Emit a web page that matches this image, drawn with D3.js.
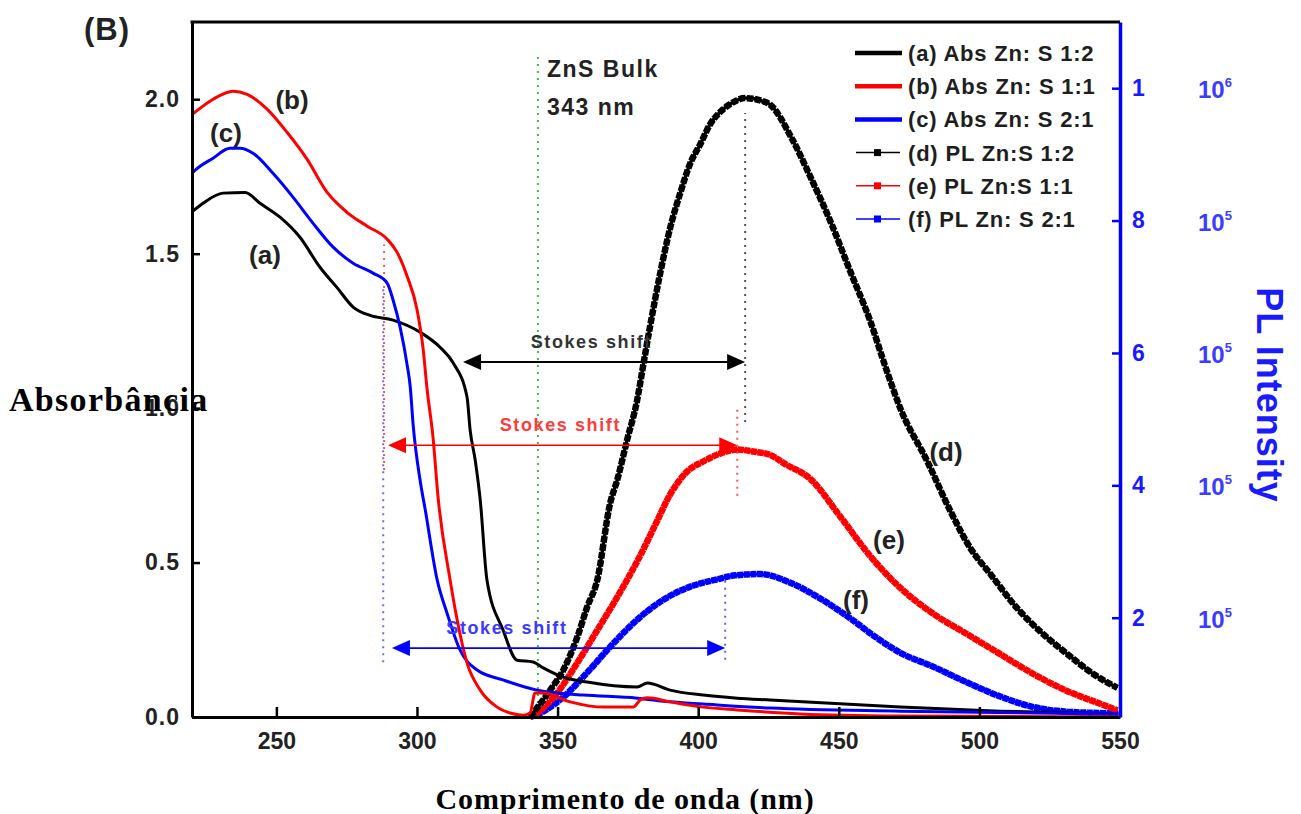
<!DOCTYPE html>
<html>
<head>
<meta charset="utf-8">
<script src="https://cdn.jsdelivr.net/npm/d3@7"></script>
<style>
  body { margin: 0; background: #fff; }
  svg { display: block; }
  text { font-family: Arial, "Liberation Sans", sans-serif; }
</style>
</head>
<body>
<svg id="chart" width="1301" height="814"></svg>
<script>
// ---- Absorbance spectra (wavelength nm, absorbance) ----
const absA = [[220,1.635],[223.9,1.663],[231,1.696],[238.9,1.698],[244.2,1.663],[251.3,1.618],[258.4,1.553],
  [265.5,1.456],[271.6,1.39],[277.3,1.327],[283.3,1.30],[291.5,1.285],[301.1,1.246],[308.2,1.197],[312.9,1.146],
  [317.8,1.036],[318.9,0.929],[320.7,0.832],[322.5,0.702],[324.9,0.443],[330.6,0.282],[335.6,0.184],[341.3,0.178],
  [344.9,0.159],[352,0.129],[360.5,0.113],[378.3,0.097],[381.9,0.110],[390,0.087],[401.8,0.071],[413.9,0.061],
  [425.6,0.055],[471.9,0.032],[507.4,0.019],[549.4,0.010]];
const absB = [[220,1.95],[221.1,1.958],[227.5,2.0],[234.6,2.026],[239.6,2.016],[246.7,1.968],[253.8,1.893],
  [260.9,1.806],[268,1.699],[275.1,1.634],[282.3,1.589],[289.4,1.547],[292.9,1.505],[296.5,1.427],[300,1.32],
  [302.2,1.191],[303.6,1.061],[305.7,0.906],[307.5,0.712],[311.8,0.443],[314.3,0.314],[317.8,0.175],[322.5,0.087],
  [328.5,0.032],[333.1,0.013],[337.8,0.006],[340.2,0.013],[342,0.078],[344.9,0.078],[354.5,0.049],[366.2,0.032],
  [376.9,0.032],[379.4,0.055],[381.9,0.062],[390,0.049],[401.8,0.032],[413.9,0.023],[436.3,0.010],[471.9,0.003],[550,0.0]];
const absC = [[220,1.76],[221.1,1.77],[227.5,1.809],[233.5,1.841],[237.1,1.841],[241.7,1.825],[248.8,1.760],
  [255.9,1.683],[263,1.599],[270.2,1.521],[277.3,1.469],[284.4,1.437],[289.4,1.405],[291.5,1.35],[294,1.262],
  [296.5,1.14],[297.6,1.07],[298.6,0.95],[301.1,0.767],[302.9,0.673],[307.2,0.443],[310.7,0.336],[315.3,0.217],
  [321.4,0.152],[330.6,0.12],[342.7,0.087],[349.8,0.078],[359.1,0.071],[378.3,0.061],[390,0.049],[401.8,0.042],
  [425.6,0.029],[471.9,0.019],[549.4,0.010]];

// ---- Photoluminescence spectra (wavelength nm, intensity) ----
const plD = [[340.2,50000],[347.4,90800],[352,120700],[357,170600],[360.5,215900],[364.1,256700],[368.7,373000],
  [371.2,407800],[374.7,468200],[378.3,528700],[380.4,580000],[382.9,640400],[386.5,720500],[390,788500],
  [393.6,841300],[397.2,886700],[400.7,915000],[404.3,946000],[407.8,964000],[411.4,976000],[416.7,985000],
  [424.5,978000],[433.8,920000],[439.8,867000],[447,799000],[454.1,723000],[461.2,648000],[466.5,580000],
  [471.9,516000],[481.5,436000],[489.7,361000],[496.8,305000],[503.9,266000],[513.5,214000],[521.7,179000],
  [531.3,145000],[540.5,115000],[549.1,94000]];
const plE = [[340.2,50000],[342.7,56000],[349.8,86000],[356.9,131000],[364.1,181000],[371.2,231000],[374.7,257000],
  [379.4,294000],[384.7,340000],[390,386000],[396.1,421000],[401.8,436000],[407.8,448000],[413.9,454000],
  [419.6,451000],[425.6,446000],[431,432000],[439.8,410000],[450.5,353000],[461.2,293000],[471.9,245000],
  [483.6,206000],[495.7,175000],[507.4,145000],[519.2,115000],[531.3,89000],[543,70000],[549.1,60000]];
const plF = [[340.2,50000],[343.8,56000],[352,80000],[360.5,117000],[368.7,156000],[378.3,197000],[387.6,227000],
  [397.2,247000],[406.8,258000],[413.2,264000],[422.1,266000],[432.7,253000],[443.4,229000],[454.1,199000],
  [463,171000],[471.9,147000],[483.6,126000],[495.7,102000],[507.4,81000],[519.2,65000],[531.3,58000],
  [543,56000],[549.4,55000]];

// ---- Axis ticks ----
const xTicks = [250, 300, 350, 400, 450, 500, 550];
const absTicks = [0, 0.5, 1.0, 1.5, 2.0];
const plTicks = [200000, 400000, 600000, 800000, 1000000];
const plTickLabels = ["2", "4", "6", "8", "1"];
const plTickExp = ["5", "5", "5", "5", "6"];

// ---- Legend entries ----
const legendLabels = ["(a) Abs Zn: S 1:2", "(b) Abs Zn: S 1:1", "(c) Abs Zn: S 2:1",
                      "(d) PL Zn:S 1:2", "(e) PL Zn:S 1:1", "(f) PL Zn: S 2:1"];
const legendColors = ["#000", "#ff0000", "#0000ff", "#000", "#ff0000", "#0000ff"];
const legendKinds = ["abs", "abs", "abs", "pl", "pl", "pl"];

// ---- Stokes shift annotations (start nm, end nm, absorbance level) ----
const shiftStart = [316.4, 289.7, 291.1];
const shiftEnd = [416.7, 413.9, 409.6];
const shiftLevel = [1.149, 0.880, 0.223];
const shiftColors = ["#000", "#ff0000", "#0000ff"];
const shiftTextColors = ["#333", "#ff3b3b", "#3b3bff"];
const shiftTextX = [362, 351, 332];

const svg = d3.select("#chart");
const L = 192, R = 1120, T = 22, B = 717;

const x = d3.scaleLinear([220, 550], [L, R]);
const yAbs = d3.scaleLinear([0, 2.25], [B, T]);
const yPL = d3.scaleLinear([50000, 1100000], [B, T]);

// dotted guide lines
function vdot(nm, a0, a1, color) {
  svg.append("line")
    .attr("x1", x(nm)).attr("x2", x(nm))
    .attr("y1", yAbs(a0)).attr("y2", yAbs(a1))
    .attr("stroke", color).attr("stroke-width", 2)
    .attr("stroke-dasharray", "2 5");
}
vdot(343, 0, 2.14, "#4caf50");
vdot(416.7, 0.955, 1.955, "#555");
vdot(413.9, 0.716, 1.010, "#ff5555");
vdot(409.6, 0.185, 0.476, "#6060ff");
vdot(288.3, 0.80, 1.53, "#ff5555");
vdot(288.0, 0.177, 1.40, "#6a6aff");

// curves
const absLine = d3.line().x(d => x(d[0])).y(d => yAbs(d[1])).curve(d3.curveMonotoneX);
const plLine = d3.line().x(d => x(d[0])).y(d => yPL(d[1])).curve(d3.curveMonotoneX);

// PL spectra: connecting line overlaid with densely packed square symbols
[[plF, "#0000ff", "6 0.6"], [plE, "#ff0000", "6 0.6"], [plD, "#000", "6.5 1.5"]].forEach(([data, c, dash]) => {
  svg.append("path").attr("d", plLine(data)).attr("fill", "none")
    .attr("stroke", c).attr("stroke-width", 3.5);
  svg.append("path").attr("d", plLine(data)).attr("fill", "none")
    .attr("stroke", c).attr("stroke-width", 6.5)
    .attr("stroke-dasharray", dash);
});

[[absA, "#000"], [absC, "#0000ff"], [absB, "#ff0000"]].forEach(([data, c]) => {
  svg.append("path").attr("d", absLine(data)).attr("fill", "none")
    .attr("stroke", c).attr("stroke-width", 3).attr("stroke-linejoin", "round");
});

// Stokes shift arrows
shiftStart.forEach((s, i) => {
  const y = yAbs(shiftLevel[i]);
  const x0 = x(s), x1 = x(shiftEnd[i]);
  const c = shiftColors[i];
  svg.append("line").attr("x1", x0 + 10).attr("x2", x1 - 10).attr("y1", y).attr("y2", y)
    .attr("stroke", c).attr("stroke-width", i === 0 ? 2 : 1.6);
  svg.append("path").attr("d", `M${x0},${y}L${x0 + 18},${y - 8}L${x0 + 18},${y + 8}Z`).attr("fill", c);
  svg.append("path").attr("d", `M${x1},${y}L${x1 - 18},${y - 8}L${x1 - 18},${y + 8}Z`).attr("fill", c);
  svg.append("text").attr("x", x(shiftTextX[i])).attr("y", y - 14)
    .attr("text-anchor", "middle").attr("fill", shiftTextColors[i])
    .attr("font-size", 18).attr("font-weight", "bold")
    .attr("letter-spacing", 1.6).text("Stokes shift");
});

// axes
const gx = svg.append("g").attr("transform", `translate(0,${B})`)
  .call(d3.axisBottom(x).tickValues(xTicks).tickSizeInner(-10).tickSizeOuter(0).tickPadding(16));
const gl = svg.append("g").attr("transform", `translate(${L},0)`)
  .call(d3.axisLeft(yAbs).tickValues(absTicks).tickSizeInner(-8).tickSizeOuter(0).tickPadding(12)
    .tickFormat(d3.format(".1f")));
const gr = svg.append("g").attr("transform", `translate(${R},0)`)
  .call(d3.axisRight(yPL).tickValues(plTicks).tickSizeInner(-8).tickSizeOuter(0).tickPadding(12)
    .tickFormat((d, i) => plTickLabels[i]));

[gx, gl].forEach(g => {
  g.select(".domain").attr("stroke", "#000").attr("stroke-width", 3);
  g.selectAll(".tick line").attr("stroke", "#000").attr("stroke-width", 2.5);
  g.selectAll(".tick text").attr("fill", "#222").attr("font-size", 23)
    .attr("font-weight", "bold").style("font-family", "Arial, 'Liberation Sans', sans-serif");
});
gl.selectAll(".tick text").attr("letter-spacing", 1);
gr.select(".domain").attr("stroke", "#0000ff").attr("stroke-width", 3.5);
gr.selectAll(".tick line").attr("stroke", "#0000ff").attr("stroke-width", 2.5);
gr.selectAll(".tick text").attr("fill", "#1a1aff").attr("font-size", 23)
  .attr("font-weight", "bold").style("font-family", "Arial, 'Liberation Sans', sans-serif");

// exponent part of the right tick labels
plTicks.forEach((v, i) => {
  const t = svg.append("text").attr("x", 1198).attr("y", yPL(v) + 10)
    .attr("fill", "#3c3cff").attr("font-size", 24).attr("font-weight", "bold");
  t.append("tspan").text("10");
  t.append("tspan").attr("dy", -11).attr("font-size", 13).text(plTickExp[i]);
});

// top frame
svg.append("line").attr("x1", L - 1.5).attr("x2", R).attr("y1", T).attr("y2", T)
  .attr("stroke", "#000").attr("stroke-width", 3);

// legend
legendLabels.forEach((lab, i) => {
  const y = 53 + i * 33.2;
  const g = svg.append("g");
  if (legendKinds[i] === "abs") {
    g.append("line").attr("x1", 855).attr("x2", 902).attr("y1", y).attr("y2", y)
      .attr("stroke", legendColors[i]).attr("stroke-width", 4.5);
  } else {
    g.append("line").attr("x1", 856).attr("x2", 900).attr("y1", y).attr("y2", y)
      .attr("stroke", legendColors[i]).attr("stroke-width", 1.5);
    g.append("rect").attr("x", 874).attr("y", y - 3.5).attr("width", 7).attr("height", 7)
      .attr("fill", legendColors[i]);
  }
  g.append("text").attr("x", 908).attr("y", y + 8).attr("fill", "#1e1e1e")
    .attr("font-size", 22).attr("font-weight", "bold").attr("letter-spacing", 0.8).text(lab);
});

// curve letters
const curveLabels = [["(a)", 265, 264], ["(b)", 292, 109], ["(c)", 226, 142],
                     ["(d)", 946, 461], ["(e)", 889, 549], ["(f)", 856, 609]];
curveLabels.forEach(([t, cx, cy]) => {
  svg.append("text").attr("x", cx).attr("y", cy).attr("text-anchor", "middle")
    .attr("fill", "#222").attr("font-size", 26).attr("font-weight", "bold").text(t);
});

// bulk band-gap note
svg.append("text").attr("x", 547).attr("y", 77).attr("fill", "#222")
  .attr("font-size", 23).attr("font-weight", "bold").attr("letter-spacing", 1.5).text("ZnS Bulk");
svg.append("text").attr("x", 547).attr("y", 115).attr("fill", "#222")
  .attr("font-size", 23).attr("font-weight", "bold").attr("letter-spacing", 1.5).text("343 nm");

// panel tag
svg.append("text").attr("x", 84).attr("y", 40).attr("fill", "#222")
  .attr("font-size", 31).attr("font-weight", "bold").attr("letter-spacing", 1).text("(B)");

// axis titles
svg.append("text").attr("x", 9).attr("y", 411)
  .style("font-family", "'Times New Roman', 'Liberation Serif', serif")
  .attr("font-size", 34).attr("font-weight", "bold").attr("letter-spacing", 1.3)
  .attr("fill", "#000").text("Absorbância");
svg.append("text").attr("x", 625).attr("y", 809).attr("text-anchor", "middle")
  .style("font-family", "'Times New Roman', 'Liberation Serif', serif")
  .attr("font-size", 30).attr("font-weight", "bold").attr("letter-spacing", 0.9)
  .attr("fill", "#000").text("Comprimento de onda (nm)");
svg.append("text").attr("transform", "translate(1257,395) rotate(90)").attr("text-anchor", "middle")
  .attr("fill", "#1a1aff").attr("font-size", 36).attr("font-weight", "bold").attr("letter-spacing", 1)
  .text("PL Intensity");
</script>
</body>
</html>
